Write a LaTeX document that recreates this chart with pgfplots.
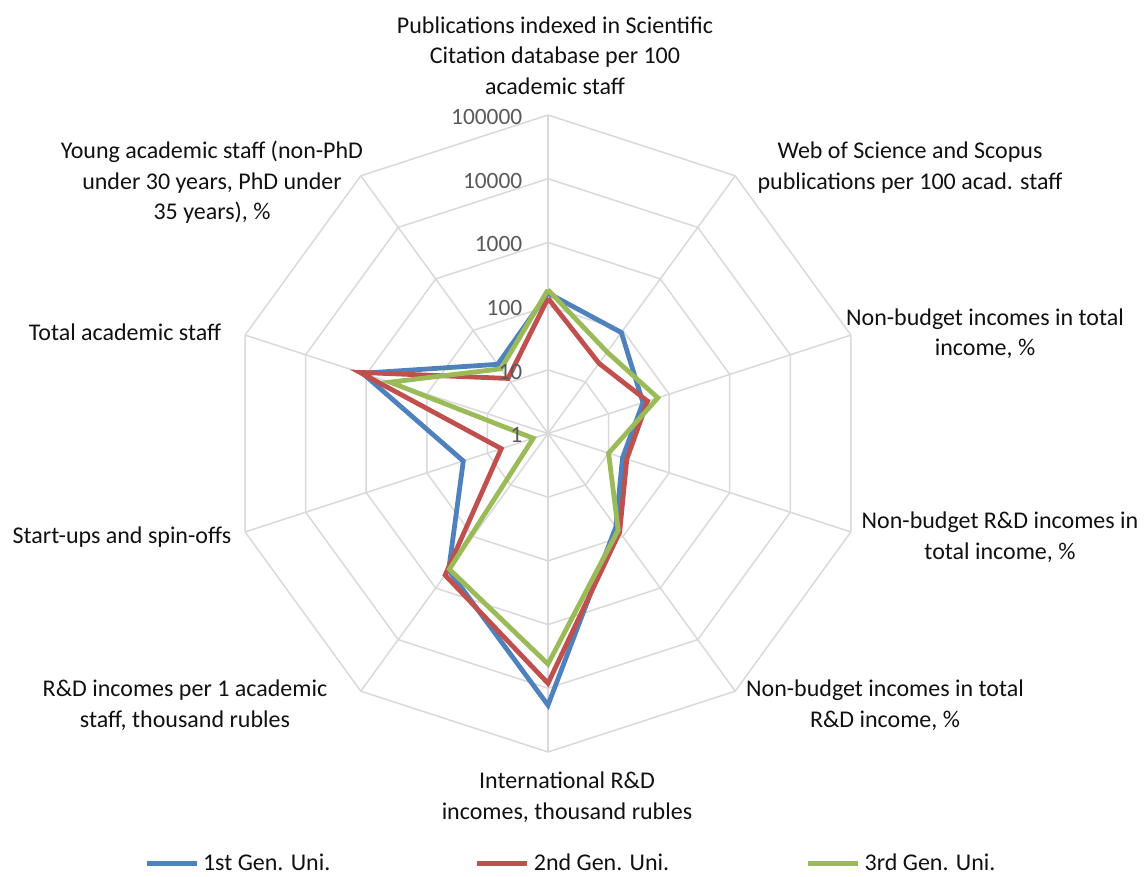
\documentclass[border=0pt]{standalone}
\usepackage{fontspec}
\setmainfont{Carlito}
\usepackage{pgfplots}
\usepgfplotslibrary{polar}
\pgfplotsset{compat=1.18}
\usepackage{pgfplotstable}
\definecolor{cblue}{HTML}{4F81BD}
\definecolor{cred}{HTML}{C0504D}
\definecolor{cgreen}{HTML}{9BBB59}
\definecolor{gridc}{HTML}{D9D9D9}
\definecolor{labc}{HTML}{111111}
\definecolor{tickc}{HTML}{595959}

\pgfplotstableread{
a blue red green
90 160 133 180
54 91 23 38
18 37 44 65
-18 17 20 10
-54 65 82 75
-90 18400 8350 4160
-126 450 560 430
-162 25 5.9 1.75
-198 1150 1270 404
-234 22 11.7 18
-270 160 133 180
}\datatab

\begin{document}
\begin{tikzpicture}[font=\fontsize{12}{15.25}\selectfont]
\begin{polaraxis}[
  width=318.5pt, height=318.5pt, scale only axis,
  ymin=0, ymax=5, hide axis, clip=false,
  legend columns=3,
  legend style={draw=none, fill=none, at={(0.5447,-0.175)}, anchor=center,
    font=\fontsize{12}{14}\selectfont, text=labc,
    /tikz/every even column/.append style={column sep=64pt}},
  legend image code/.code={\draw[#1] (0pt,0pt) -- (23.5pt,0pt); \path (0pt,0pt) -- (25pt,0pt);},
]
\pgfplotsinvokeforeach{1,2,3,4,5}{
  \addplot[gridc, line width=0.75pt, forget plot] coordinates {(90,#1) (54,#1) (18,#1) (-18,#1) (-54,#1) (-90,#1) (-126,#1) (-162,#1) (-198,#1) (-234,#1) (-270,#1)};
}
\pgfplotsinvokeforeach{90,54,18,-18,-54,-90,-126,-162,-198,-234}{
  \addplot[gridc, line width=0.75pt, forget plot] coordinates {(#1,0) (#1,5)};
}
\addplot[cblue, line width=2.4pt] table[x=a, y expr={log10(\thisrow{blue})}] {\datatab};
\addlegendentry{\makebox[70pt][l]{1st Gen. Uni.}}
\addplot[cred, line width=2.4pt] table[x=a, y expr={log10(\thisrow{red})}] {\datatab};
\addlegendentry{\makebox[70pt][l]{2nd Gen. Uni.}}
\addplot[cgreen, line width=2.4pt] table[x=a, y expr={log10(\thisrow{green})}] {\datatab};
\addlegendentry{\makebox[70pt][l]{3rd Gen. Uni.}}
\coordinate (C) at (axis cs:0,0);
\end{polaraxis}
% radial tick labels
\begin{scope}[tickc, font=\fontsize{11.7}{13}\selectfont]
\node[anchor=east, inner sep=0pt] at ([shift={(-12.65pt,-0.8pt)}]C) {1};
\node[anchor=east, inner sep=0pt] at ([shift={(-12.65pt,30.85pt)}]C) {10};
\node[anchor=east, inner sep=0pt] at ([shift={(-12.65pt,62.7pt)}]C) {100};
\node[anchor=east, inner sep=0pt] at ([shift={(-12.65pt,94.55pt)}]C) {1000};
\node[anchor=east, inner sep=0pt] at ([shift={(-12.65pt,126.4pt)}]C) {10000};
\node[anchor=east, inner sep=0pt] at ([shift={(-12.65pt,158.25pt)}]C) {100000};
\end{scope}
% category labels
\begin{scope}[labc, every node/.style={align=center, inner sep=0pt}]
\node at ([shift={(3.5pt,189pt)}]C) {Publications indexed in Scientific\\Citation database per 100\\academic staff};
\node at ([shift={(181pt,133pt)}]C) {Web of Science and Scopus\\publications per 100 acad. staff};
\node at ([shift={(218.5pt,50pt)}]C) {Non-budget incomes in total\\income, \%};
\node at ([shift={(226pt,-51.75pt)}]C) {Non-budget R\&D incomes in\\total income, \%};
\node at ([shift={(168.5pt,-135.75pt)}]C) {Non-budget incomes in total\\R\&D income, \%};
\node at ([shift={(9.5pt,-181.75pt)}]C) {International R\&D\\incomes, thousand rubles};
\node at ([shift={(-181.5pt,-135.75pt)}]C) {R\&D incomes per 1 academic\\staff, thousand rubles};
\node at ([shift={(-213pt,-51.75pt)}]C) {Start-ups and spin-offs};
\node at ([shift={(-211.5pt,50.75pt)}]C) {Total academic staff};
\node at ([shift={(-168pt,125.5pt)}]C) {Young academic staff (non-PhD\\under 30 years, PhD under\\35 years), \%};
\end{scope}
\pgfresetboundingbox
\path[use as bounding box] ([shift={(-274pt,-221.75pt)}]C) rectangle ([shift={(299pt,216.75pt)}]C);
\end{tikzpicture}
\end{document}
